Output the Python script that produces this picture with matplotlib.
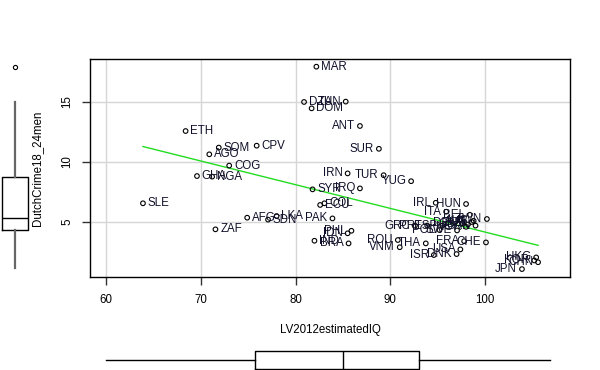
import numpy as np
import matplotlib
matplotlib.use("Agg")
import matplotlib.pyplot as plt

plt.rcParams['font.family'] = ['Liberation Sans', 'DejaVu Sans']

countries = ["SLE", "ETH", "GHA", "NGA", "AGO", "SOM", "ZAF", "COG", "AFG", "CPV",
             "SDN", "LKA", "SYR", "IND", "MAR", "ECU", "COL", "DZA", "DOM", "TUN",
             "PAK", "IRN", "IRQ", "ANT", "PHL", "IDN", "BRA", "SUR", "TUR", "ROU",
             "VNM", "YUG", "GRC", "THA", "PRT", "ISR", "IRL", "POL", "ESP", "ITA",
             "DNK", "SWE", "USA", "FRA", "HUN", "BEL", "DEU", "GBR", "AUT", "NOR",
             "CAN", "AUS", "TWN", "CHE", "JPN", "HKG", "KOR", "CHN"]
iq = [63.9, 68.4, 69.6, 71.2, 70.9, 71.9, 71.55, 73.0, 74.9, 75.9,
      77.1, 78.0, 81.8, 82.0, 82.2, 82.6, 83.05, 80.9, 81.7, 85.3,
      83.9, 85.5, 86.8, 86.8, 85.9, 85.5, 85.6, 88.8, 89.3, 90.8,
      91.0, 92.2, 92.6, 93.75, 93.9, 94.6, 94.8, 95.2, 95.5, 95.9,
      97.0, 97.05, 97.4, 97.8, 98.0, 98.4, 97.6, 98.2, 98.6, 98.0,
      99.0, 98.8, 100.2, 100.1, 103.9, 105.4, 105.2, 105.6]
crime = [6.56, 12.58, 8.83, 8.78, 10.64, 11.2, 4.39, 9.7, 5.36, 11.36,
         5.2, 5.5, 7.72, 3.44, 17.94, 6.42, 6.56, 15.0, 14.47, 15.03,
         5.3, 9.05, 7.8, 13.0, 4.27, 4.06, 3.22, 11.1, 8.9, 3.5,
         2.9, 8.4, 4.7, 3.22, 4.7, 2.25, 6.6, 4.33, 4.7, 5.86,
         2.33, 4.3, 2.72, 3.4, 6.5, 5.6, 4.9, 4.8, 5.0, 4.6,
         4.7, 5.1, 5.25, 3.3, 1.08, 2.05, 1.8, 1.65]

# marginal boxplot summaries
x_box = dict(whislo=60.0, q1=75.7, med=85.0, q3=93.05, whishi=106.9, fliers=[])
y_box = dict(whislo=1.14, q1=4.33, med=5.3, q3=8.78, whishi=15.03, fliers=[17.94])

xlim = (58.31, 108.97)
ylim = (0.42, 18.58)
fs = 8.3

fig = plt.figure(figsize=(6, 3.7), dpi=100)
ax = fig.add_axes([90/600, 1-277/370, 480/600, 218/370])

x = np.array(iq)
y = np.array(crime)
ax.scatter(x, y, s=11, facecolors='none', edgecolors='black', linewidths=0.8, zorder=3)

mid = sum(xlim) / 2
for name, xi, yi in zip(countries, x, y):
    if xi > mid:
        ax.annotate(name, (xi, yi), xytext=(-3.5, 0), textcoords='offset points',
                    ha='right', va='center', fontsize=fs, color='#10102a', zorder=4)
    else:
        ax.annotate(name, (xi, yi), xytext=(3.5, 0), textcoords='offset points',
                    ha='left', va='center', fontsize=fs, color='#10102a', zorder=4)

b, a = np.polyfit(x, y, 1)
xs = np.array([x.min(), x.max()])
ax.plot(xs, a + b * xs, color='#22dd22', lw=1, zorder=2)

ax.set_xlim(xlim)
ax.set_ylim(ylim)
ax.set_xticks([60, 70, 80, 90, 100])
ax.set_yticks([5, 10, 15])
ax.set_yticklabels(["5", "10", "15"], rotation=90, va='center')
ax.grid(color='#d6d6d6', lw=1)
ax.set_axisbelow(True)
ax.tick_params(labelsize=fs, length=6, width=1, pad=6, colors='#333333', labelcolor='black')
for s in ax.spines.values():
    s.set_linewidth(1)
ax.set_xlabel("LV2012estimatedIQ", fontsize=fs)
ax.set_ylabel("DutchCrime18_24men", fontsize=fs)
ax.xaxis.set_label_coords(0.5, -0.215)
ax.yaxis.set_label_coords(-0.098, 0.5)

# left boxplot
axl = fig.add_axes([0, 1-277/370, 30/600, 218/370])
axl.bxp([y_box], positions=[0.5], widths=0.88, showcaps=False,
        boxprops=dict(color='black', lw=1),
        medianprops=dict(color='black', lw=1),
        whiskerprops=dict(color='#666666', lw=1.6),
        flierprops=dict(marker='o', markersize=3, markerfacecolor='none',
                        markeredgecolor='black', markeredgewidth=0.8))
axl.set_xlim(0, 1)
axl.set_ylim(ylim)
axl.axis('off')

# bottom boxplot
axb = fig.add_axes([90/600, 0, 480/600, 20/370])
axb.bxp([x_box], positions=[0.5], widths=0.88, vert=False, showcaps=False,
        boxprops=dict(color='black', lw=1),
        medianprops=dict(color='black', lw=1),
        whiskerprops=dict(color='black', lw=1))
axb.set_xlim(xlim)
axb.set_ylim(0, 1)
axb.axis('off')

fig.savefig("out.png", dpi=100)
